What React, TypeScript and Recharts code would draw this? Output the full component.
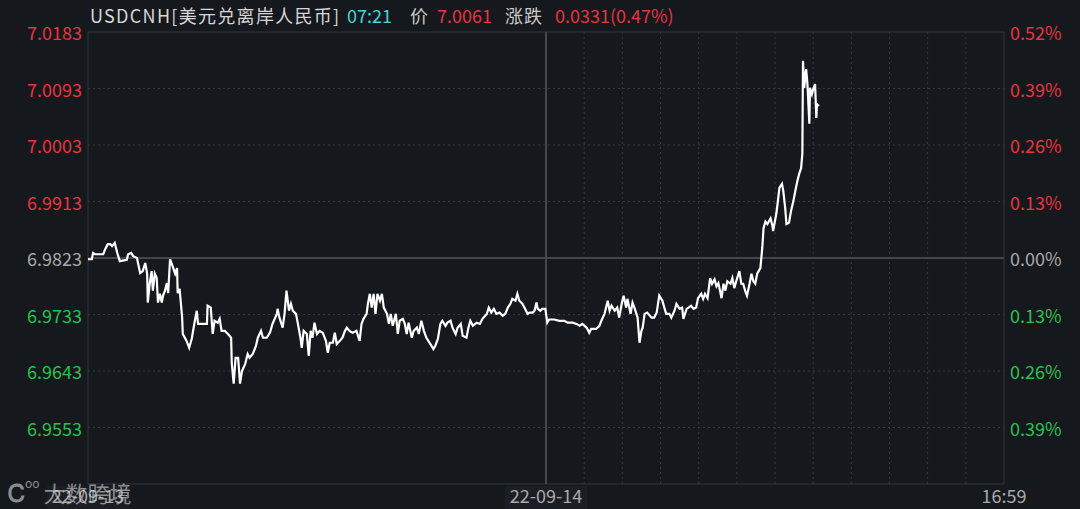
import React from 'react';
import { LineChart, Line, XAxis, YAxis, CartesianGrid, ReferenceLine } from 'recharts';

// minutes since session open (full session = 1440)
const times = [
  0, 6, 8, 11, 24, 27, 31, 35, 38, 42, 46, 50, 61, 63, 68, 71, 77, 79, 82, 86,
  90, 93, 94, 97, 100, 102, 105, 108, 110, 113, 116, 118, 121, 124, 126, 129, 132, 137, 140, 141,
  144, 148, 149, 155, 159, 163, 168, 171, 173, 187, 188, 193, 196, 199, 204, 207, 210, 215, 220, 225,
  226, 229, 232, 236, 239, 242, 247, 251, 254, 259, 264, 267, 272, 275, 281, 286,
  290, 297, 298, 301, 306, 309, 312, 316, 319, 322, 327, 330, 334, 336, 339, 344, 347, 350, 353, 356,
  360, 364, 369, 374, 377, 380, 385, 388, 391, 396, 400, 404, 407, 411, 416, 422, 427, 430, 433, 438,
  440, 443, 446, 449, 452, 455, 459, 462, 465, 470, 473, 476, 479, 484, 487, 490, 495, 498, 501, 504,
  509, 512, 517, 520, 524, 528, 532, 535, 540, 543, 546, 550, 554, 557, 562, 565, 570, 573, 578,
  581, 586, 589, 595, 598, 601, 605, 611, 616, 620, 627, 630, 634, 638, 642, 647, 652, 656, 660, 664,
  667, 672, 675, 678, 683, 686, 691, 694, 699, 702, 705, 707, 711, 714, 719, 722, 725, 733, 741, 749,
  754, 762, 768, 773, 777, 784, 788, 791, 799, 804, 807, 812, 817, 820, 823, 828, 832, 835, 839, 842,
  846, 848, 853, 856, 859, 864, 867, 870,
  872, 875, 879, 886, 890, 894, 898, 903, 906, 909, 914, 917, 922, 925, 930, 934, 936, 941, 944, 948,
  952, 956, 959, 964, 967, 970, 974, 978, 981, 985, 988, 991, 996, 999, 1002, 1005, 1010, 1013, 1016, 1019,
  1024, 1027, 1030, 1033, 1036, 1040, 1043, 1046, 1049, 1052, 1057, 1060, 1062, 1065, 1068, 1073, 1076, 1077, 1082, 1084,
  1087, 1091, 1093, 1096, 1098, 1102, 1105, 1109, 1112, 1115, 1118, 1121, 1123, 1124, 1126, 1127, 1129, 1131, 1134, 1135,
  1138, 1140, 1143, 1145, 1146, 1149,
];

const prices = [
  6.9821, 6.9821, 6.9831, 6.9829, 6.9829, 6.9837, 6.9845, 6.9845, 6.9842, 6.9847, 6.9831, 6.9818, 6.982, 6.9829, 6.9831, 6.9826, 6.9823, 6.9813, 6.9799, 6.9802,
  6.9815, 6.9798, 6.9752, 6.9782, 6.9802, 6.9771, 6.9798, 6.9791, 6.9752, 6.9766, 6.9752, 6.9763, 6.9771, 6.9783, 6.9767, 6.9821, 6.9813, 6.9798, 6.9807, 6.9767,
  6.9774, 6.9728, 6.9702, 6.9691, 6.968, 6.9694, 6.9723, 6.9739, 6.9718, 6.9718, 6.9747, 6.9744, 6.9702, 6.9723, 6.972, 6.9726, 6.9707, 6.9707, 6.9702, 6.9696,
  6.9656, 6.9623, 6.9664, 6.9664, 6.9623, 6.9643, 6.9654, 6.967, 6.9664, 6.967, 6.9683, 6.9696, 6.9707, 6.9696, 6.9696, 6.9704,
  6.9718, 6.9734, 6.9742, 6.9728, 6.9712, 6.9734, 6.9771, 6.9739, 6.975, 6.9739, 6.9734, 6.9718, 6.9696, 6.968, 6.9707, 6.9702, 6.9667, 6.9707, 6.9696, 6.972,
  6.9702, 6.9707, 6.9704, 6.9691, 6.9672, 6.9688, 6.9688, 6.9704, 6.9686, 6.9691, 6.9696, 6.9707, 6.9712, 6.9707, 6.9704, 6.9707, 6.9691, 6.9718, 6.9726, 6.9734,
  6.975, 6.9766, 6.9744, 6.9766, 6.9734, 6.9766, 6.9755, 6.9766, 6.9744, 6.9734, 6.9718, 6.9734, 6.9715, 6.9734, 6.9702, 6.9723, 6.9726, 6.9718, 6.9702, 6.972,
  6.9696, 6.9707, 6.9712, 6.9702, 6.9723, 6.9707, 6.9696, 6.9691, 6.9683, 6.9678, 6.9683, 6.9694, 6.9718, 6.9723, 6.9715, 6.972, 6.9723, 6.9712, 6.9702,
  6.9712, 6.9718, 6.9699, 6.9696, 6.9712, 6.9723, 6.9715, 6.972, 6.9718, 6.9726, 6.9734, 6.9744, 6.9736, 6.9742, 6.9734, 6.9736, 6.9731, 6.9734, 6.9744, 6.975,
  6.9758, 6.9755, 6.9766, 6.9755, 6.975, 6.9744, 6.9734, 6.9736, 6.9736, 6.9739, 6.9752, 6.9742, 6.9739, 6.9742, 6.9742, 6.972, 6.9725, 6.9725, 6.9723, 6.9723,
  6.972, 6.972, 6.9718, 6.9715, 6.9718, 6.9712, 6.9704, 6.971, 6.971, 6.9715, 6.9723, 6.9734, 6.9755, 6.9739, 6.9747, 6.9739, 6.9744, 6.9728, 6.975, 6.9763,
  6.9744, 6.9758, 6.9734, 6.9752, 6.9744, 6.9728, 6.9688, 6.9707,
  6.9712, 6.9734, 6.9736, 6.9728, 6.9728, 6.9736, 6.9763, 6.9755, 6.9744, 6.9734, 6.9734, 6.9728, 6.9739, 6.975, 6.9742, 6.9744, 6.9726, 6.9742, 6.9744, 6.9747,
  6.9742, 6.9744, 6.9759, 6.9766, 6.9758, 6.9766, 6.9759, 6.9791, 6.9782, 6.9789, 6.9778, 6.9783, 6.9759, 6.9782, 6.9771, 6.9786, 6.9782, 6.9791, 6.9775, 6.9786,
  6.9802, 6.9782, 6.9782, 6.9771, 6.9763, 6.9782, 6.9798, 6.9786, 6.9782, 6.9798, 6.9807, 6.9839, 6.9871, 6.9881, 6.9877, 6.9886, 6.9874, 6.9866, 6.9893, 6.9909,
  6.9935, 6.9941, 6.993, 6.9903, 6.9877, 6.9879, 6.9897, 6.9914, 6.993, 6.9945, 6.9957, 6.9966, 6.9989, 7.0137, 7.0094, 7.0105, 7.0124, 7.01, 7.0037, 7.0094,
  7.0084, 7.0092, 7.01, 7.0046, 7.0068, 7.0065,
];

const PREV_CLOSE = 6.9823;
const Y_MIN = 6.9463;
const Y_MAX = 7.0183;
const priceTicks = [7.0183, 7.0093, 7.0003, 6.9913, 6.9823, 6.9733, 6.9643, 6.9553];
const pctLabels = ['0.52%', '0.39%', '0.26%', '0.13%', '0.00%', '0.13%', '0.26%', '0.39%'];
const dottedRows = [7.0093, 7.0003, 6.9913, 6.9733, 6.9643, 6.9553];
const hourCols = [780, 840, 900, 960, 1020, 1080, 1140, 1200, 1260, 1320, 1380];
const timeTicks = [0, 720, 1440];
const timeLabels = ['22-09-13', '22-09-14', '16:59'];

const RED = '#e8353d';
const GREEN = '#27c24c';
const GRAY = '#a9a9a9';
const BG = '#15181d';
const FONT = '"Noto Sans CJK SC", "Noto Sans", sans-serif';

const tickColor = (v: number) => (v > PREV_CLOSE ? RED : v < PREV_CLOSE ? GREEN : GRAY);

const data = times.map((t, i) => ({ t, p: prices[i] }));

const LeftTick = (props: any) => {
  const { y, payload } = props;
  return (
    <text x={82} y={y} textAnchor="end" dominantBaseline="central" fill={tickColor(payload.value)} fontSize={18} fontFamily={FONT}>
      {payload.value.toFixed(4)}
    </text>
  );
};

const RightTick = (props: any) => {
  const { y, payload } = props;
  const idx = priceTicks.indexOf(payload.value);
  return (
    <text x={1010} y={y} textAnchor="start" dominantBaseline="central" fill={tickColor(payload.value)} fontSize={18} fontFamily={FONT}>
      {pctLabels[idx]}
    </text>
  );
};

const TimeTick = (props: any) => {
  const { x, y, payload } = props;
  const idx = timeTicks.indexOf(payload.value);
  const w = idx === 2 ? 0 : 82;
  return (
    <g>
      {w > 0 && <rect x={x - w / 2} y={y - 6} width={w} height={25} fill="#1b1e24" />}
      <text x={x} y={y + 3} textAnchor="middle" dominantBaseline="central" fill={GRAY} fontSize={18} fontFamily={FONT}>
        {timeLabels[idx]}
      </text>
    </g>
  );
};

const headerStyle: React.CSSProperties = {
  position: 'absolute',
  top: 5,
  fontSize: 18,
  lineHeight: '20px',
  fontFamily: FONT,
  whiteSpace: 'nowrap',
};

export default function App() {
  return (
    <div style={{ position: 'absolute', left: 0, top: 0, width: 1080, height: 509, background: BG, overflow: 'hidden' }}>
      <LineChart width={1080} height={509} data={data} margin={{ top: 32, right: 0, bottom: 0, left: 0 }}>
        <CartesianGrid
          stroke="#363a40"
          strokeDasharray="2 3"
          horizontalValues={dottedRows}
          verticalValues={hourCols}
        />
        <XAxis
          type="number"
          dataKey="t"
          domain={[0, 1440]}
          ticks={timeTicks}
          height={25}
          axisLine={false}
          tickLine={false}
          tick={<TimeTick />}
          interval={0}
        />
        <YAxis
          domain={[Y_MIN, Y_MAX]}
          ticks={priceTicks}
          width={88}
          axisLine={false}
          tickLine={false}
          tick={<LeftTick />}
          interval={0}
        />
        <YAxis
          yAxisId="right"
          orientation="right"
          domain={[Y_MIN, Y_MAX]}
          ticks={priceTicks}
          width={76}
          axisLine={false}
          tickLine={false}
          tick={<RightTick />}
          interval={0}
        />
        <ReferenceLine y={Y_MAX} stroke="#33363c" />
        <ReferenceLine y={Y_MIN} stroke="#33363c" />
        <ReferenceLine x={0} stroke="#33363c" />
        <ReferenceLine x={1440} stroke="#33363c" />
        <ReferenceLine y={PREV_CLOSE} stroke="#43464c" strokeWidth={2} />
        <ReferenceLine x={720} stroke="#43464c" strokeWidth={2} />
        <Line
          type="linear"
          dataKey="p"
          stroke="#ffffff"
          strokeWidth={2.2}
          dot={false}
          isAnimationActive={false}
        />
        <Line yAxisId="right" dataKey="p" stroke="none" dot={false} activeDot={false} isAnimationActive={false} />
      </LineChart>

      <span style={{ ...headerStyle, left: 90, color: '#d6d6d6', letterSpacing: 1.3 }}>USDCNH[美元兑离岸人民币]</span>
      <span style={{ ...headerStyle, left: 347, color: '#45d3dc' }}>07:21</span>
      <span style={{ ...headerStyle, left: 410, color: '#c8c8c8' }}>价</span>
      <span style={{ ...headerStyle, left: 437, color: RED }}>7.0061</span>
      <span style={{ ...headerStyle, left: 505, color: '#c8c8c8', letterSpacing: 1 }}>涨跌</span>
      <span style={{ ...headerStyle, left: 555, color: RED }}>0.0331(0.47%)</span>

      <div style={{ position: 'absolute', left: 8, top: 474, color: 'rgba(220,220,220,0.6)', fontFamily: FONT, whiteSpace: 'nowrap' }}>
        <span style={{ fontSize: 24, fontWeight: 700 }}>Ꮯ</span>
        <span style={{ fontSize: 12, verticalAlign: 'top' }}>oo</span>
        <span style={{ fontSize: 22, marginLeft: 4 }}>大数跨境</span>
      </div>
    </div>
  );
}
